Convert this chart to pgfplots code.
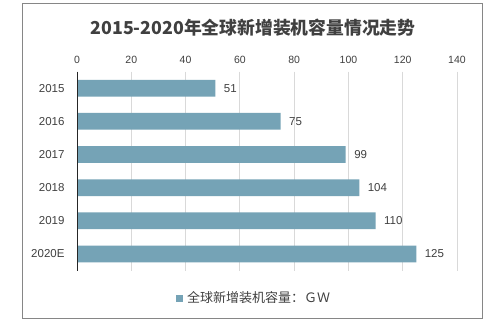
\documentclass[border=0pt]{standalone}
\usepackage{pgfplots}
\pgfplotsset{compat=1.18}
\usepackage{fontspec}
\setmainfont{Liberation Sans}
\newfontfamily\cjk{Noto Sans CJK SC}
\definecolor{barc}{RGB}{117,163,182}
\definecolor{gridc}{RGB}{217,217,217}
\definecolor{framec}{RGB}{134,134,134}
\definecolor{txt}{RGB}{64,64,64}
\begin{document}
\begin{tikzpicture}
\path[fill=white] (0pt,0pt) rectangle (502pt,328pt);
\draw[framec,line width=1pt] (22.5pt,9pt) rectangle (482pt,324pt);
\node[font=\fontsize{17.8}{20}\selectfont\bfseries\cjk,text=txt] at (253pt,300pt) {2015-2020年全球新增装机容量情况走势};
\begin{axis}[
  at={(77pt,57.4pt)}, anchor=south west,
  scale only axis, width=380pt, height=199pt,
  xmin=0, xmax=140, xtick={0,20,...,140},
  ymin=-0.5, ymax=5.5, y dir=reverse,
  ytick={0,...,5}, yticklabels={2015,2016,2017,2018,2019,2020E},
  xticklabel pos=right,
  axis line style={draw=none},
  major tick length=0pt,
  xmajorgrids, grid style={gridc,line width=0.8pt},
  tick label style={text=txt},
  xticklabel style={font=\fontsize{10.5}{12}\selectfont, yshift=4pt},
  yticklabel style={font=\fontsize{11.5}{13}\selectfont, xshift=-9pt},
  /pgf/number format/assume math mode=true,
  clip=false,
]
\addplot[xbar, bar width=16.7pt, fill=barc, draw=none,
  nodes near coords, nodes near coords align={horizontal},
  every node near coord/.append style={font=\fontsize{11.5}{13}\selectfont, text=txt, xshift=5pt}]
  coordinates {(51,0) (75,1) (99,2) (104,3) (110,4) (125,5)};
\draw[black!85,line width=0.8pt] (axis cs:0,-0.5) -- (axis cs:0,5.5);
\end{axis}
\fill[barc] (175.7pt,25.7pt) rectangle (183pt,33pt);
\node[anchor=west,font=\fontsize{13}{15}\selectfont\cjk,text=txt,inner sep=0pt] at (187pt,30pt) {全球新增装机容量：ＧＷ};
\end{tikzpicture}
\end{document}
